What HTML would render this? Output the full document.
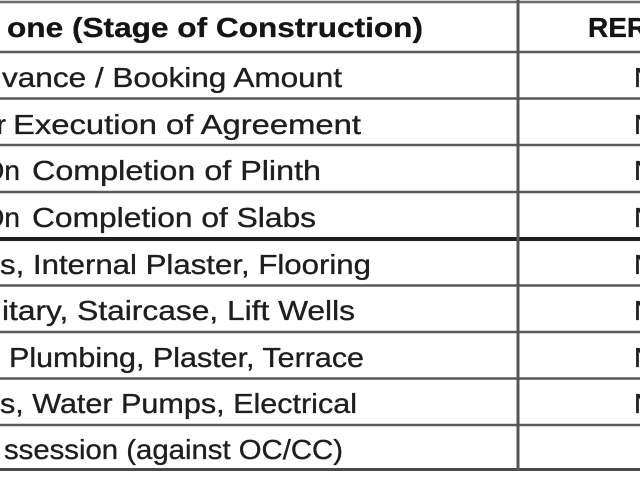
<!DOCTYPE html>
<html>
<head>
<meta charset="utf-8">
<style>
  html, body { margin: 0; padding: 0; background: #ffffff; }
  body { width: 640px; height: 480px; overflow: hidden; }
  svg { display: block; }
  text { font-family: "Liberation Sans", sans-serif; fill: #1e1e1e; stroke: #1e1e1e; stroke-width: 0.35px; font-size: 28px; }
  .b { font-weight: bold; fill: #141414; stroke: #141414; stroke-width: 0.3px; }
</style>
</head>
<body>
<svg width="640" height="480" viewBox="0 0 640 480" xmlns="http://www.w3.org/2000/svg">
  <rect x="0" y="0" width="640" height="480" fill="#ffffff"/>

  <!-- horizontal lines -->
  <line x1="0" y1="2" x2="640" y2="2" stroke="#6a6a6a" stroke-width="2.5"/>
  <line x1="0" y1="52" x2="640" y2="52" stroke="#5a5a5a" stroke-width="2.5"/>
  <line x1="0" y1="98.5" x2="640" y2="98.5" stroke="#5a5a5a" stroke-width="2.5"/>
  <line x1="0" y1="145" x2="640" y2="145" stroke="#5a5a5a" stroke-width="2.5"/>
  <line x1="0" y1="192" x2="640" y2="192" stroke="#5a5a5a" stroke-width="2.5"/>
  <line x1="0" y1="239" x2="640" y2="239" stroke="#1e1e1e" stroke-width="4"/>
  <line x1="0" y1="285.5" x2="640" y2="285.5" stroke="#5a5a5a" stroke-width="2.5"/>
  <line x1="0" y1="332" x2="640" y2="332" stroke="#5a5a5a" stroke-width="2.5"/>
  <line x1="0" y1="378.5" x2="640" y2="378.5" stroke="#5a5a5a" stroke-width="2.5"/>
  <line x1="0" y1="425" x2="640" y2="425" stroke="#5a5a5a" stroke-width="2.5"/>
  <line x1="0" y1="469.5" x2="640" y2="469.5" stroke="#4a4a4a" stroke-width="3"/>

  <!-- vertical line -->
  <line x1="518" y1="0" x2="518" y2="471" stroke="#555555" stroke-width="3"/>

  <!-- header -->
  <text class="b" x="7" y="37" textLength="416" lengthAdjust="spacingAndGlyphs">one (Stage of Construction)</text>
  <text class="b" x="588" y="37">RERA</text>

  <!-- rows -->
  <text x="2" y="87" textLength="340" lengthAdjust="spacingAndGlyphs">vance / Booking Amount</text>

  <text x="6" y="134" text-anchor="end">er</text>
  <text x="13" y="134" textLength="348" lengthAdjust="spacingAndGlyphs">Execution of Agreement</text>

  <text x="20" y="180" text-anchor="end">On</text>
  <text x="32" y="180" textLength="289" lengthAdjust="spacingAndGlyphs">Completion of Plinth</text>

  <text x="20" y="227" text-anchor="end">On</text>
  <text x="32" y="227" textLength="284" lengthAdjust="spacingAndGlyphs">Completion of Slabs</text>

  <text x="0" y="274" textLength="371" lengthAdjust="spacingAndGlyphs">s, Internal Plaster, Flooring</text>

  <text x="2" y="320" textLength="353" lengthAdjust="spacingAndGlyphs">itary, Staircase, Lift Wells</text>

  <text x="9" y="367" textLength="355" lengthAdjust="spacingAndGlyphs">Plumbing, Plaster, Terrace</text>

  <text x="0" y="413" textLength="357" lengthAdjust="spacingAndGlyphs">s, Water Pumps, Electrical</text>

  <text x="4" y="459" textLength="339" lengthAdjust="spacingAndGlyphs">ssession (against OC/CC)</text>

  <!-- right column partial values -->
  <text x="634" y="87">NA</text>
  <text x="634" y="134">NA</text>
  <text x="634" y="180">NA</text>
  <text x="634" y="227">NA</text>
  <text x="634" y="274">NA</text>
  <text x="634" y="320">NA</text>
  <text x="634" y="367">NA</text>
  <text x="634" y="413">NA</text>
</svg>
</body>
</html>
